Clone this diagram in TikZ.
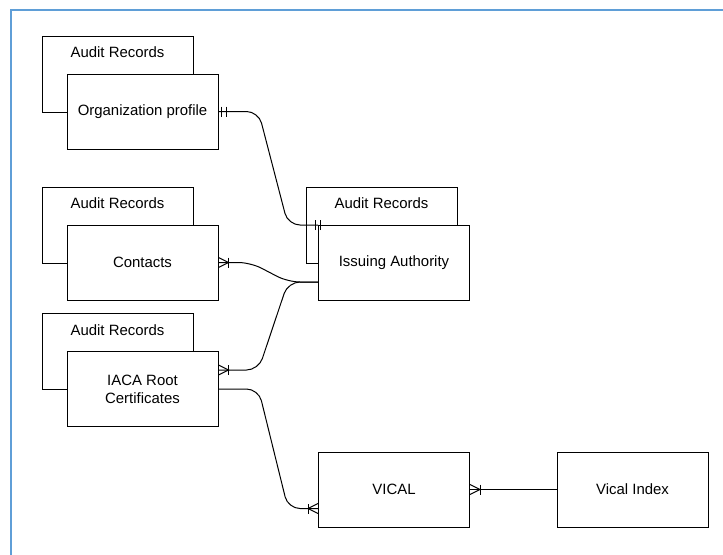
\documentclass[tikz,border=0pt]{standalone}
\usepackage{fontspec}
\setmainfont{Liberation Sans}
\usetikzlibrary{positioning,calc}
\definecolor{frameblue}{RGB}{95,158,215}

\begin{document}
\begin{tikzpicture}[x=0.75pt,y=-0.75pt,line width=0.75pt,
  font=\fontsize{11.2}{13.5}\selectfont,
  ent/.style={draw,fill=white,minimum width=113.25pt,minimum height=56.25pt,
    inner sep=0pt,align=center},
  audit/.style={draw,minimum width=113.25pt,minimum height=57pt,inner sep=0pt},
  txt/.style={inner sep=0pt},
  rel/.style={draw,rounded corners=9pt},
  many/.pic={\draw (0,-5) -- (10,0) -- (0,5); \draw (10,-5) -- (10,5);},
  mandone/.pic={\draw (3,-5) -- (3,5); \draw (8,-5) -- (8,5);}]
\useasboundingbox (0,0) rectangle (723,554);
% cadre
\draw[frameblue,line width=1.6pt] (11,565) -- (11,10) -- (735,10);
% entites de gauche avec leur table d'audit
\foreach \name/\y/\lab in {org/111.5/{Organization profile},con/262.5/{Contacts},
  iaca/389/{IACA Root\\Certificates}}{
  \node[audit] (\name-a) at (117.5,\y-37.5) {};
  \node[txt] (\name-at) at ($(\name-a.north)+(0,17)$) {Audit Records};
  \node[ent] (\name) at (142.5,\y) {\lab};
}
% issuing authority
\node[audit] (ia-a) at (381.5,225) {};
\node[txt] (ia-at) at ($(ia-a.north)+(0,17)$) {Audit Records};
\node[ent] (ia) at (394,263) {Issuing Authority};
% vical
\node[ent] (vical) at (394,489.5) {VICAL};
\node[ent] (index) at (632.5,489.5) {Vical Index};
% relations
\draw[rel] (org.east) -- +(40,0) -- ($(ia.north west)+(-30,0)$) -- (ia.north west);
\draw[rel] (con.east) -- +(32,0) -- ($(ia.west)+(-30,19)$) -- ($(ia.west)+(0,19)$);
\draw[rel] ($(iaca.east)+(0,-19)$) -- +(40,0) -- ($(ia.west)+(-30,19)$) -- ($(ia.west)+(0,19)$);
\draw[rel] (iaca.east) -- +(40,0) -- ($(vical.west)+(-30,19)$) -- ($(vical.west)+(0,19)$);
\draw (vical.east) -- (index.west);
% terminaisons
\pic at (org.east) {mandone};
\pic[rotate=180] at ($(ia.north west)+(5,0)$) {mandone};
\pic at (con.east) {many};
\pic at ($(iaca.east)+(0,-19)$) {many};
\pic[rotate=180] at ($(vical.west)+(0,19)$) {many};
\pic at (vical.east) {many};
\end{tikzpicture}
\end{document}
